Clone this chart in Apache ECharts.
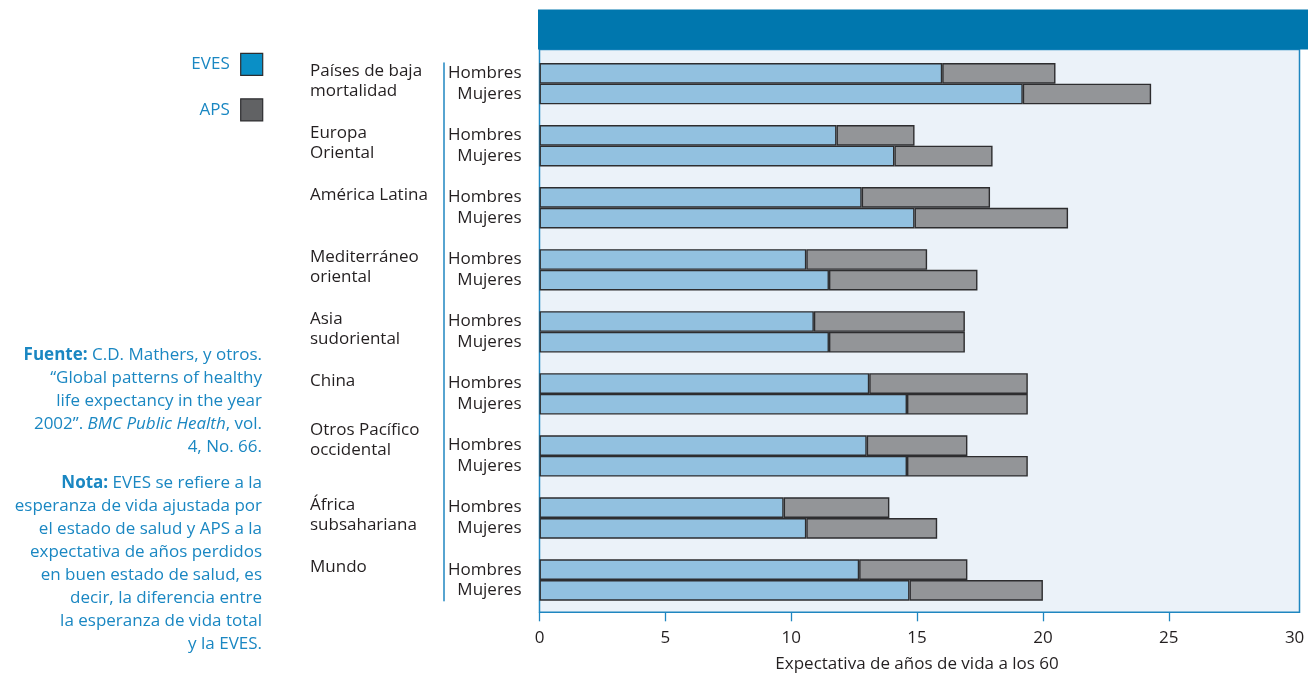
<!DOCTYPE html>
<html><head><meta charset="utf-8">
<script src="https://cdn.jsdelivr.net/npm/echarts@6/dist/echarts.min.js"></script>
<style>html,body{margin:0;padding:0;background:#fff}#c{width:1308px;height:675px}</style>
</head><body><div id="c"></div>
<script>
// ---- data ----
const regions = ['Países de baja\nmortalidad','Europa\nOriental','América Latina','Mediterráneo\noriental','Asia\nsudoriental','China','Otros Pacífico\noccidental','África\nsubsahariana','Mundo'];
const sexes = ['Hombres','Mujeres'];
const evesHombres = [16.0, 11.8, 12.8, 10.6, 10.9, 13.1, 13.0, 9.7, 12.7];
const apsHombres  = [4.5, 3.1, 5.1, 4.8, 6.0, 6.3, 4.0, 4.2, 4.3];
const evesMujeres = [19.2, 14.1, 14.9, 11.5, 11.5, 14.6, 14.6, 10.6, 14.7];
const apsMujeres  = [5.1, 3.9, 6.1, 5.9, 5.4, 4.8, 4.8, 5.2, 5.3];
const xTicks = [0, 5, 10, 15, 20, 25, 30];
const seriesNames = ['EVES', 'APS'];
const axisTitle = 'Expectativa de años de vida a los 60';
const fuenteLines = ['{b|Fuente:}{n| C.D. Mathers, y otros.}', '{n|“Global patterns of healthy}', '{n|life expectancy in the year}', '{n|2002”. }{i|BMC Public Health}{n|, vol.}', '{n|4, No. 66.}'];
const notaLines = ['{b|Nota:}{n| EVES se refiere a la}', '{n|esperanza de vida ajustada por}', '{n|el estado de salud y APS a la}', '{n|expectativa de años perdidos}', '{n|en buen estado de salud, es}', '{n|decir, la diferencia entre}', '{n|la esperanza de vida total}', '{n|y la EVES.}'];

// ---- build categories (Hombres, Mujeres, gap) ----
const cats = [], catLabel = {}, eves = [], aps = [];
regions.forEach((r, i) => {
  cats.push('H' + i); catLabel['H' + i] = sexes[0]; eves.push(evesHombres[i]); aps.push(apsHombres[i]);
  cats.push('M' + i); catLabel['M' + i] = sexes[1]; eves.push(evesMujeres[i]); aps.push(apsMujeres[i]);
  if (i < regions.length - 1) { cats.push('G' + i); catLabel['G' + i] = ''; eves.push('-'); aps.push('-'); }
});

// ---- styles ----
const FONT = '"Open Sans", "Noto Sans", sans-serif';
const TXT = '#231f20';
const BLUE = '#1f86c0';
const NOTE = '#1a87c2';
const BORDER = '#2d2d2f';
const regionShift = {6: 13}; // layout tweak for one label

const chart = echarts.init(document.getElementById('c'));
const option = {
  animation: false,
  backgroundColor: '#ffffff',
  grid: { left: 539.5, top: 63, right: 13.4, bottom: 74.3, containLabel: false, outerBoundsMode: 'none' },
  legend: [
    { data: [{ name: seriesNames[0], itemStyle: { color: '#0a8fc6', borderColor: BORDER, borderWidth: 1.2 } }],
      orient: 'vertical', right: 1039.7, top: 47.7, itemWidth: 22, itemHeight: 22, align: 'right', icon: 'rect',
      selectedMode: false, textStyle: { color: NOTE, fontSize: 17, fontFamily: FONT, padding: [5, 6, 0, 0] } },
    { data: [{ name: seriesNames[1], itemStyle: { color: '#616264', borderColor: BORDER, borderWidth: 1.2 } }],
      orient: 'vertical', right: 1039.7, top: 93.3, itemWidth: 22, itemHeight: 22, align: 'right', icon: 'rect',
      selectedMode: false, textStyle: { color: NOTE, fontSize: 17, fontFamily: FONT, padding: [5, 6, 0, 0] } }
  ],
  xAxis: {
    type: 'value', min: xTicks[0], max: xTicks[xTicks.length - 1], interval: xTicks[1] - xTicks[0],
    offset: 11.6,
    axisLine: { show: false },
    axisTick: { show: true, length: 9, customValues: xTicks.slice(0, -1), lineStyle: { color: BLUE, width: 1.3 } },
    splitLine: { show: false },
    axisLabel: { margin: 17, color: TXT, fontSize: 17, fontFamily: FONT },
    name: axisTitle, nameLocation: 'middle', nameGap: 43,
    nameTextStyle: { color: TXT, fontSize: 17, fontFamily: FONT }
  },
  yAxis: [
    { type: 'category', data: cats, inverse: true,
      axisLine: { show: false }, axisTick: { show: false }, splitLine: { show: false },
      axisLabel: { interval: 0, margin: 18, color: TXT, fontSize: 17, fontFamily: FONT, padding: [0, 0, 5, 0],
        formatter: v => catLabel[v] } },
    { type: 'category', data: cats, inverse: true, position: 'left', offset: 95.5,
      axisLine: { show: true, lineStyle: { color: BLUE, width: 1.5 } },
      axisTick: { show: false }, axisLabel: { show: false }, splitLine: { show: false } }
  ],
  series: [
    { name: seriesNames[0], type: 'bar', stack: 'total', data: eves, yAxisIndex: 0, barCategoryGap: '0%',
      itemStyle: { color: '#92c1e0', borderColor: BORDER, borderWidth: 1.4 } },
    { name: seriesNames[1], type: 'bar', stack: 'total', data: aps, yAxisIndex: 0, barCategoryGap: '0%',
      itemStyle: { color: '#939598', borderColor: BORDER, borderWidth: 1.4 } }
  ],
  graphic: [
    { type: 'rect', z: -2, shape: { x: 539.5, y: 49.5, width: 760, height: 562.8 },
      style: { fill: '#ebf2f9', stroke: BLUE, lineWidth: 1.5 } },
    { type: 'rect', z: -1, shape: { x: 538, y: 9.5, width: 770, height: 40 }, style: { fill: '#0077ae' } }
  ]
};
chart.setOption(option);

// ---- region names and notes (positions from the category scale) ----
const extra = [];
regions.forEach((r, i) => {
  const yc = chart.convertToPixel({ yAxisIndex: 0 }, cats.indexOf('H' + i));
  const top = yc - 2.5 - 10.25 - (regionShift[i] || 0);
  extra.push({ type: 'text', x: 310, y: top,
    style: { text: r, fill: TXT, fontSize: 17, fontFamily: FONT, lineHeight: 20.5,
      align: 'left', textAlign: 'left', verticalAlign: 'top', textVerticalAlign: 'top' } });
});
const rich = {
  b: { fontWeight: 'bold', fontSize: 17, fontFamily: FONT, fill: NOTE, lineHeight: 23, align: 'right' },
  n: { fontSize: 17, fontFamily: FONT, fill: NOTE, lineHeight: 23, align: 'right' },
  i: { fontStyle: 'italic', fontSize: 17, fontFamily: FONT, fill: NOTE, lineHeight: 23, align: 'right' }
};
[[fuenteLines, 343.5], [notaLines, 471.8]].forEach(([lines, y]) => {
  extra.push({ type: 'text', x: 262, y: y,
    style: { text: lines.join('\n'), rich: rich, fill: NOTE, fontSize: 17, fontFamily: FONT, lineHeight: 23,
      align: 'right', textAlign: 'right', verticalAlign: 'top', textVerticalAlign: 'top' } });
});
chart.setOption({ graphic: option.graphic.concat(extra) });
</script>
</body></html>
